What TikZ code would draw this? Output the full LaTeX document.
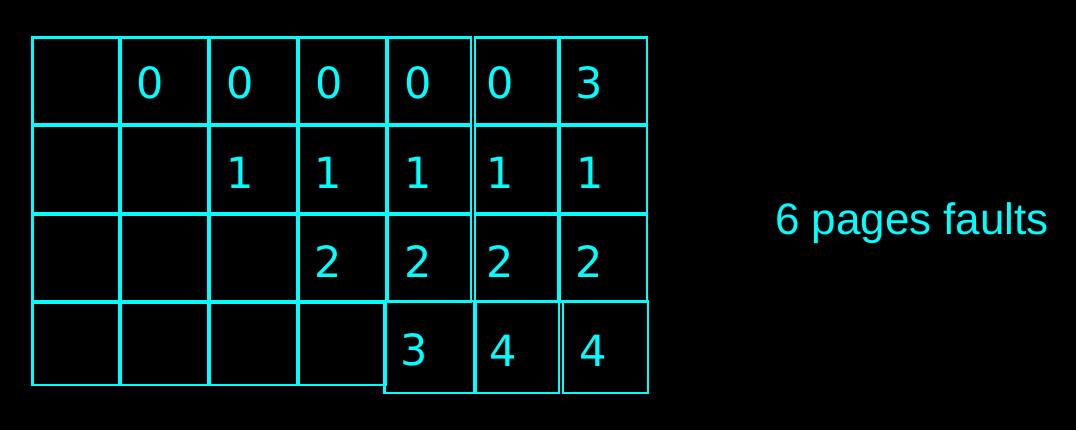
\documentclass[tikz,border=0pt]{standalone}
\usepackage{fontspec}
\setmainfont{Liberation Sans}
\newfontfamily\digitfont{DejaVu Sans}
\definecolor{cy}{HTML}{00FFFF}
\begin{document}
\begin{tikzpicture}[x=1pt,y=-1pt,
  cell/.style={draw=cy,line width=2.6pt},
  thin cell/.style={draw=cy,line width=2.2pt},
  num/.style={text=cy,inner sep=0pt,font=\digitfont\fontsize{43}{50}\selectfont},
  lbl/.style={text=cy,inner sep=0pt,font=\fontsize{44}{50}\selectfont}]
\fill[black] (0,0) rectangle (1076,430);
\useasboundingbox (0,0) rectangle (1076,430);
% top three rows: each cell its own box, neighbouring borders side by side
\foreach \ya/\yb in {37.5/124,126/213,215/301.5}{
  \foreach \xa/\xb in {32.5/119,121/208,210/297,299/386,388/471,475/558,560/647}{
    \draw[cell] (\xa,\ya) rectangle (\xb,\yb);
  }
}
% bottom row, left part
\foreach \xa/\xb in {32.5/119,121/208,210/297,299/386}{
  \draw[thin cell] (\xa,302.5) rectangle (\xb,385);
}
% bottom row, right boxes
\draw[thin cell] (384.5,301) rectangle (474.2,393);
\draw[thin cell] (475.8,301) rectangle (559,393);
\draw[thin cell] (563,301) rectangle (648,393);
% row 1
\node[num] (a2) at (150.5,83) {0};
\node[num] (a3) at (239.7,83) {0};
\node[num] (a4) at (328.7,83) {0};
\node[num] (a5) at (418.3,83) {0};
\node[num] (a6) at (500.5,83) {0};
\node[num] (a7) at (589,83) {3};
% row 2
\node[num] (b3) at (239.7,173.3) {1};
\node[num] (b4) at (328.3,173.3) {1};
\node[num] (b5) at (418.3,173.3) {1};
\node[num] (b6) at (500.5,173.3) {1};
\node[num] (b7) at (589.7,173.3) {1};
% row 3
\node[num] (c4) at (328.5,261.7) {2};
\node[num] (c5) at (418,261.7) {2};
\node[num] (c6) at (500.5,261.7) {2};
\node[num] (c7) at (589.5,261.7) {2};
% row 4
\node[num] (d5) at (413.8,350.3) {3};
\node[num] (d6) at (503.3,351) {4};
\node[num] (d7) at (592.8,351) {4};
% label
\node[lbl,anchor=base] (faults) at (912,235) {6 pages faults};
\end{tikzpicture}
\end{document}
